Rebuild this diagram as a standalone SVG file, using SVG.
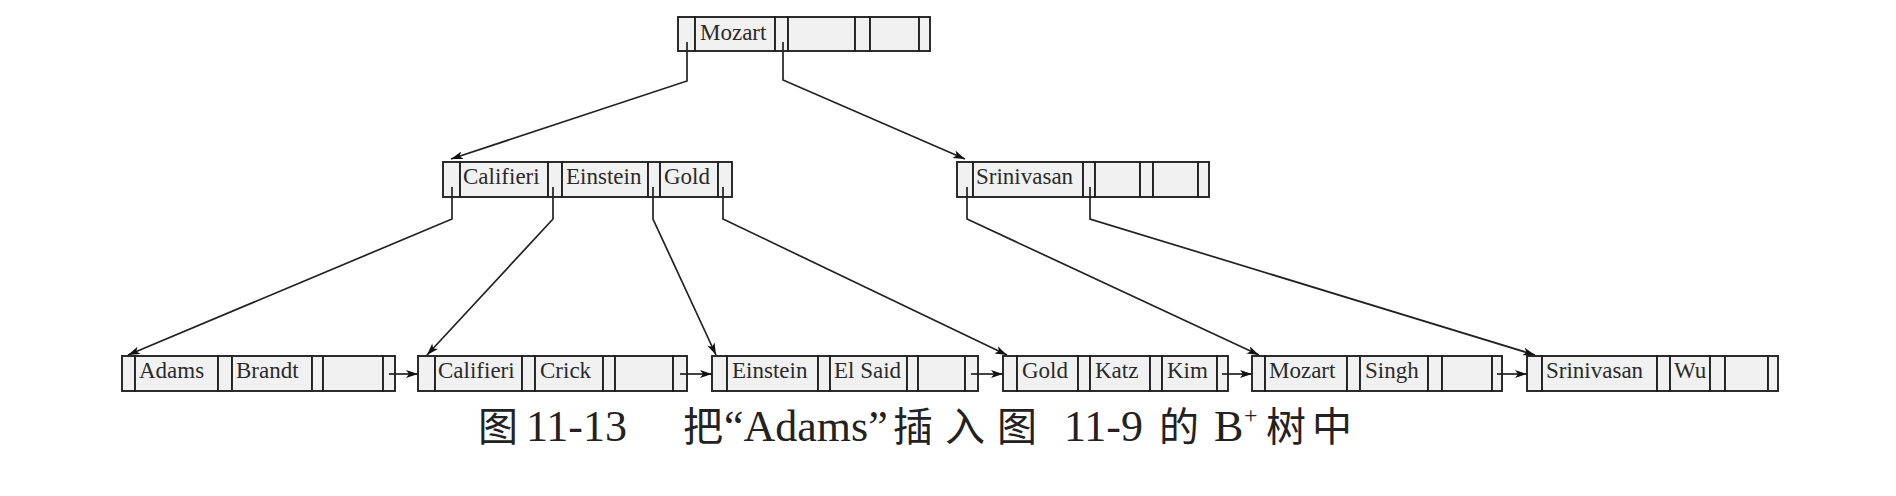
<svg xmlns="http://www.w3.org/2000/svg" width="1896" height="496" viewBox="0 0 1896 496">
<style>
  .cell { fill: #f1f1f1; stroke: #222; stroke-width: 1.9; }
  .ptr { fill: #f1f1f1; stroke: #222; stroke-width: 1.9; }
  .key { font-family: "Liberation Serif", "DejaVu Serif", serif; font-size: 23px; fill: #2a2a2a; }
  .conn { fill: none; stroke: #222; stroke-width: 1.7; }
  .cap { font-family: "Liberation Serif", "Noto Sans CJK SC", serif; font-size: 40px; fill: #222; }
  .capl { font-family: "Liberation Serif", serif; font-size: 44px; fill: #222; }
</style>
<defs>
  <marker id="ah" viewBox="0 0 12 8" refX="12" refY="4" markerWidth="13" markerHeight="8" markerUnits="userSpaceOnUse" orient="auto">
    <path d="M0,0 L12,4 L0,8 L3,4 Z" fill="#111"/>
  </marker>
</defs>
<rect width="1896" height="496" fill="#ffffff"/>

<!-- Root node -->
<g id="node-root">
  <rect class="ptr" x="678" y="17" width="17" height="34"/>
  <rect class="cell" x="695" y="17" width="80" height="34"/>
  <rect class="ptr" x="775" y="17" width="13" height="34"/>
  <rect class="cell" x="788" y="17" width="67" height="34"/>
  <rect class="ptr" x="855" y="17" width="15" height="34"/>
  <rect class="cell" x="870" y="17" width="49" height="34"/>
  <rect class="ptr" x="919" y="17" width="11" height="34"/>
  <text class="key" x="700" y="40">Mozart</text>
</g>

<!-- Internal node 1 -->
<g id="node-int1">
  <rect class="ptr" x="443" y="162" width="17" height="35"/>
  <rect class="cell" x="460" y="162" width="88" height="35"/>
  <rect class="ptr" x="548" y="162" width="14" height="35"/>
  <rect class="cell" x="562" y="162" width="86" height="35"/>
  <rect class="ptr" x="648" y="162" width="12" height="35"/>
  <rect class="cell" x="660" y="162" width="58" height="35"/>
  <rect class="ptr" x="718" y="162" width="14" height="35"/>
  <text class="key" x="463" y="184">Califieri</text>
  <text class="key" x="566" y="184">Einstein</text>
  <text class="key" x="664" y="184">Gold</text>
</g>

<!-- Internal node 2 -->
<g id="node-int2">
  <rect class="ptr" x="957" y="162" width="16" height="35"/>
  <rect class="cell" x="973" y="162" width="110" height="35"/>
  <rect class="ptr" x="1083" y="162" width="12" height="35"/>
  <rect class="cell" x="1095" y="162" width="45" height="35"/>
  <rect class="ptr" x="1140" y="162" width="13" height="35"/>
  <rect class="cell" x="1153" y="162" width="45" height="35"/>
  <rect class="ptr" x="1198" y="162" width="11" height="35"/>
  <text class="key" x="976" y="184">Srinivasan</text>
</g>

<!-- Leaf 1 -->
<g id="leaf-1">
  <rect class="ptr" x="122" y="356" width="13" height="35"/>
  <rect class="cell" x="135" y="356" width="83" height="35"/>
  <rect class="ptr" x="218" y="356" width="14" height="35"/>
  <rect class="cell" x="232" y="356" width="80" height="35"/>
  <rect class="ptr" x="312" y="356" width="11" height="35"/>
  <rect class="cell" x="323" y="356" width="60" height="35"/>
  <rect class="ptr" x="383" y="356" width="12" height="35"/>
  <text class="key" x="139" y="378">Adams</text>
  <text class="key" x="236" y="378">Brandt</text>
</g>

<!-- Leaf 2 -->
<g id="leaf-2">
  <rect class="ptr" x="418" y="356" width="17" height="35"/>
  <rect class="cell" x="435" y="356" width="87" height="35"/>
  <rect class="ptr" x="522" y="356" width="13" height="35"/>
  <rect class="cell" x="535" y="356" width="68" height="35"/>
  <rect class="ptr" x="603" y="356" width="12" height="35"/>
  <rect class="cell" x="615" y="356" width="58" height="35"/>
  <rect class="ptr" x="673" y="356" width="14" height="35"/>
  <text class="key" x="438" y="378">Califieri</text>
  <text class="key" x="540" y="378">Crick</text>
</g>

<!-- Leaf 3 -->
<g id="leaf-3">
  <rect class="ptr" x="712" y="356" width="15" height="35"/>
  <rect class="cell" x="727" y="356" width="91" height="35"/>
  <rect class="ptr" x="818" y="356" width="12" height="35"/>
  <rect class="cell" x="830" y="356" width="77" height="35"/>
  <rect class="ptr" x="907" y="356" width="11" height="35"/>
  <rect class="cell" x="918" y="356" width="47" height="35"/>
  <rect class="ptr" x="965" y="356" width="13" height="35"/>
  <text class="key" x="732" y="378">Einstein</text>
  <text class="key" x="834" y="378">El Said</text>
</g>

<!-- Leaf 4 -->
<g id="leaf-4">
  <rect class="ptr" x="1003" y="356" width="14" height="35"/>
  <rect class="cell" x="1017" y="356" width="61" height="35"/>
  <rect class="ptr" x="1078" y="356" width="12" height="35"/>
  <rect class="cell" x="1090" y="356" width="60" height="35"/>
  <rect class="ptr" x="1150" y="356" width="12" height="35"/>
  <rect class="cell" x="1162" y="356" width="55" height="35"/>
  <rect class="ptr" x="1217" y="356" width="11" height="35"/>
  <text class="key" x="1022" y="378">Gold</text>
  <text class="key" x="1095" y="378">Katz</text>
  <text class="key" x="1167" y="378">Kim</text>
</g>

<!-- Leaf 5 -->
<g id="leaf-5">
  <rect class="ptr" x="1252" y="356" width="13" height="35"/>
  <rect class="cell" x="1265" y="356" width="82" height="35"/>
  <rect class="ptr" x="1347" y="356" width="13" height="35"/>
  <rect class="cell" x="1360" y="356" width="68" height="35"/>
  <rect class="ptr" x="1428" y="356" width="14" height="35"/>
  <rect class="cell" x="1442" y="356" width="50" height="35"/>
  <rect class="ptr" x="1492" y="356" width="10" height="35"/>
  <text class="key" x="1269" y="378">Mozart</text>
  <text class="key" x="1365" y="378">Singh</text>
</g>

<!-- Leaf 6 -->
<g id="leaf-6">
  <rect class="ptr" x="1527" y="356" width="15" height="35"/>
  <rect class="cell" x="1542" y="356" width="115" height="35"/>
  <rect class="ptr" x="1657" y="356" width="13" height="35"/>
  <rect class="cell" x="1670" y="356" width="40" height="35"/>
  <rect class="ptr" x="1710" y="356" width="15" height="35"/>
  <rect class="cell" x="1725" y="356" width="43" height="35"/>
  <rect class="ptr" x="1768" y="356" width="10" height="35"/>
  <text class="key" x="1546" y="378">Srinivasan</text>
  <text class="key" x="1674" y="378">Wu</text>
</g>

<!-- Connectors -->
<g id="connectors">
  <path class="conn" marker-end="url(#ah)" d="M687,42 L687,81 L451,159"/>
  <path class="conn" marker-end="url(#ah)" d="M783,42 L783,80 L965,159"/>

  <path class="conn" marker-end="url(#ah)" d="M452,187 L452,219 L128,355"/>
  <path class="conn" marker-end="url(#ah)" d="M553,187 L553,219 L427,355"/>
  <path class="conn" marker-end="url(#ah)" d="M653,187 L653,219 L716,355"/>
  <path class="conn" marker-end="url(#ah)" d="M723,187 L723,219 L1007,355"/>
  <path class="conn" marker-end="url(#ah)" d="M967,187 L967,219 L1259,355"/>
  <path class="conn" marker-end="url(#ah)" d="M1090,187 L1090,219 L1535,355"/>

  <path class="conn" marker-end="url(#ah)" d="M389,374 L418,374"/>
  <path class="conn" marker-end="url(#ah)" d="M680,374 L712,374"/>
  <path class="conn" marker-end="url(#ah)" d="M971,374 L1003,374"/>
  <path class="conn" marker-end="url(#ah)" d="M1222,374 L1252,374"/>
  <path class="conn" marker-end="url(#ah)" d="M1497,374 L1527,374"/>
</g>

<text class="cap" y="441"><tspan x="478">图</tspan><tspan x="526" class="capl">11-13</tspan><tspan x="683">把</tspan><tspan x="724" class="capl">“Adams”</tspan><tspan x="893" letter-spacing="12">插入图</tspan><tspan x="1064" class="capl">11-9</tspan><tspan x="1159">的</tspan><tspan x="1214" class="capl">B</tspan><tspan x="1244" font-size="24" dy="-18">+</tspan><tspan dy="18" x="1266" letter-spacing="6">树中</tspan></text>
</svg>
